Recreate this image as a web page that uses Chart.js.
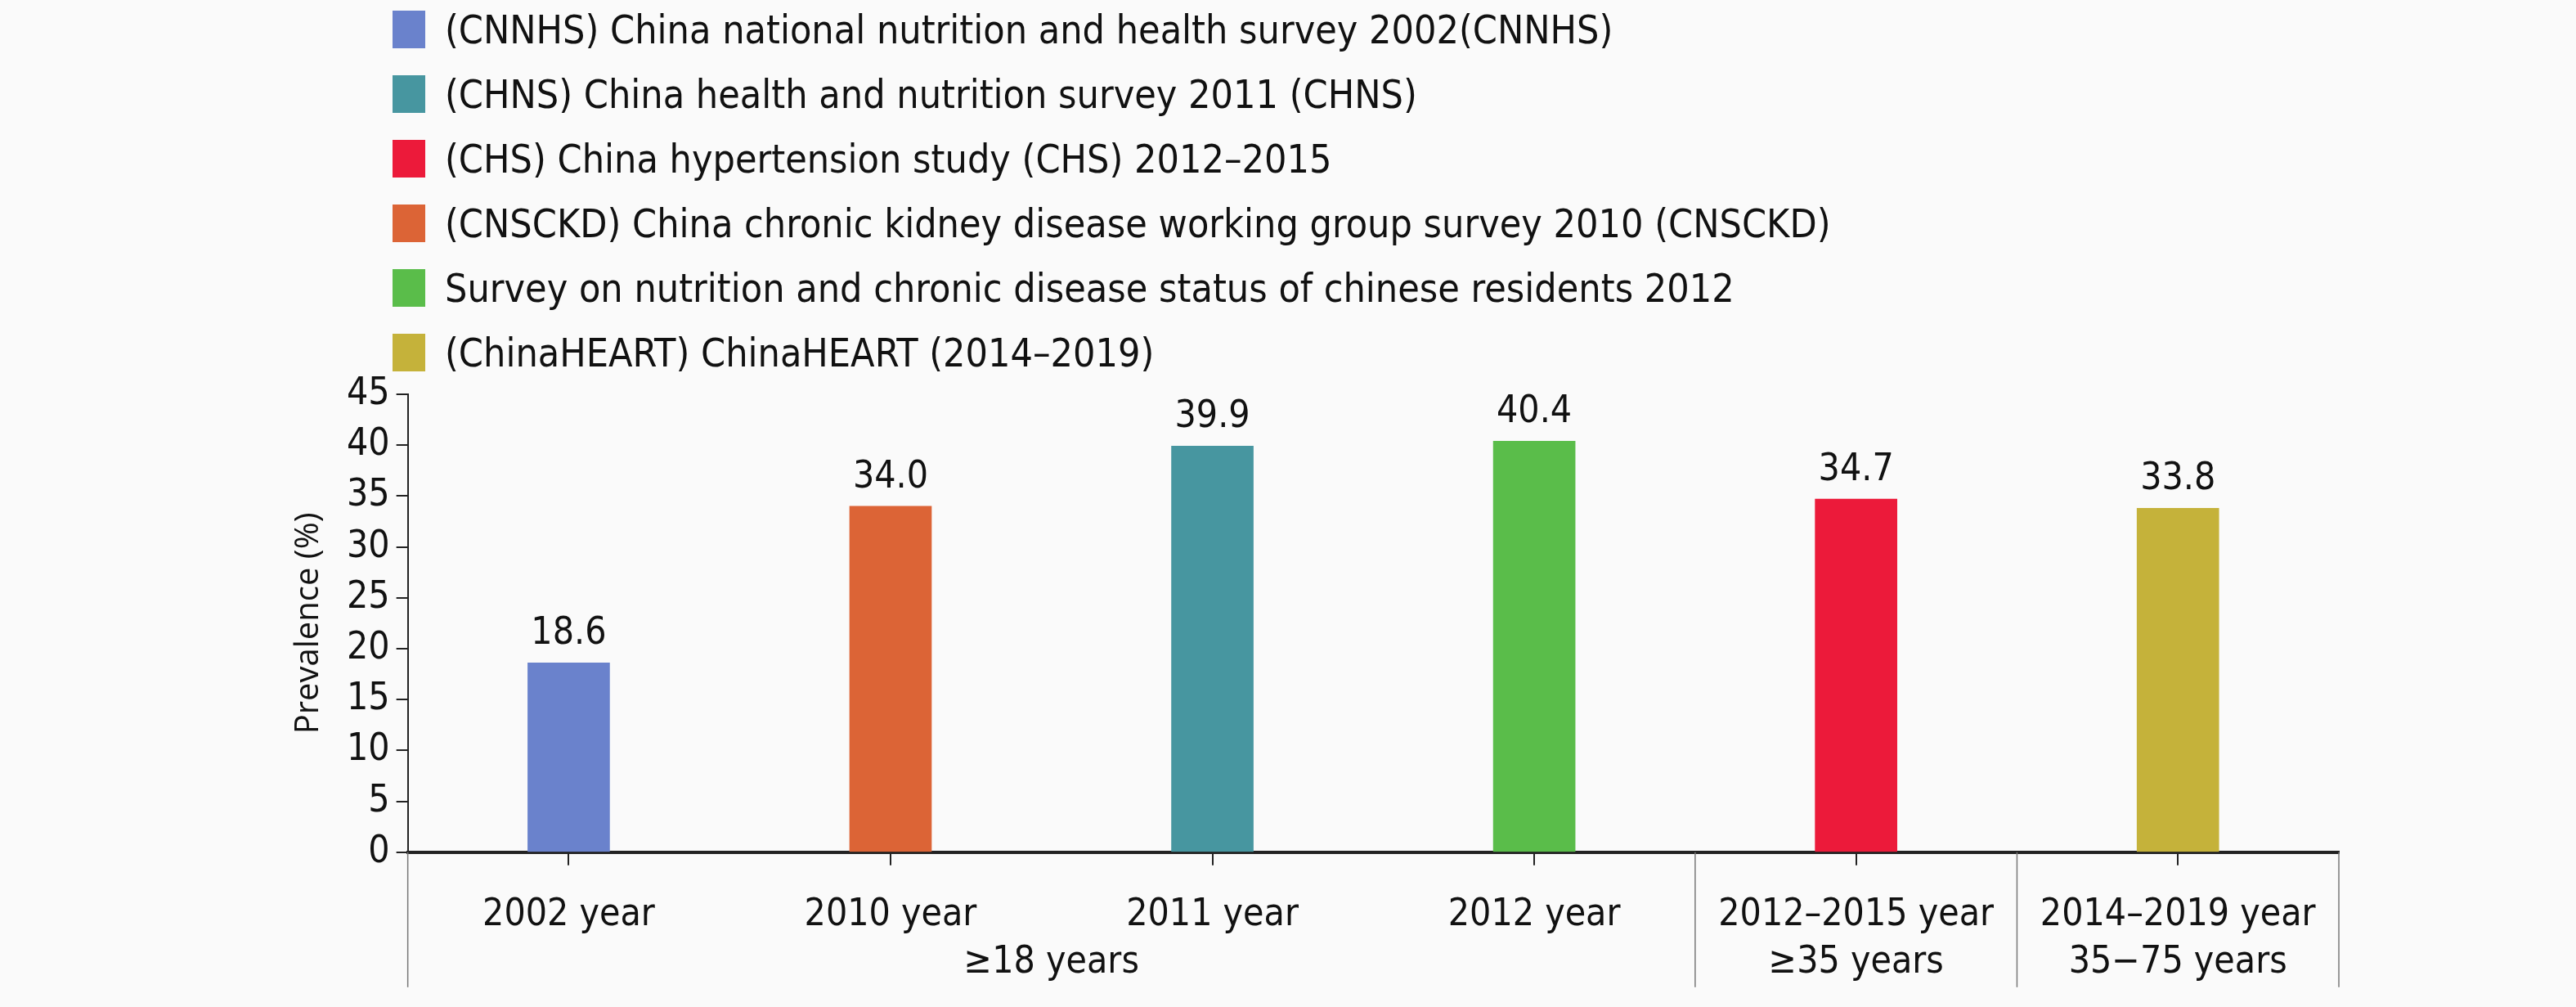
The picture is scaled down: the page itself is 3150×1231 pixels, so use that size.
<!DOCTYPE html>
<html><head><meta charset="utf-8">
<script src="https://cdn.jsdelivr.net/npm/chart.js@4.4.0/dist/chart.umd.min.js"></script>
<style>
html,body{margin:0;padding:0;background:#fafafa;}
#wrap{position:relative;width:3150px;height:1231px;}
#legend{position:absolute;left:480px;top:-4px;font-family:'Liberation Sans Narrow','DejaVu Sans Condensed',sans-serif;font-size:48px;color:#111;}
#legend div{height:79px;display:flex;align-items:center;}
#legend span.sw{display:inline-block;width:40px;height:46px;margin-right:24px;}
</style></head>
<body><div id="wrap"><canvas id="c" width="3150" height="1231"></canvas><div id="legend"></div></div>
<script>
// categories et valeurs
const CATEGORIES = ["2002 year", "2010 year", "2011 year", "2012 year", "2012\u20132015 year", "2014\u20132019 year"];
const VALUES = [18.6, 34.0, 39.9, 40.4, 34.7, 33.8];
const BAR_COLORS = ["#6a82cc", "#dc6436", "#4796a0", "#5abd4a", "#ec1a3a", "#c5b23a"];
const GROUPS = [
  { label: "\u226518 years", from: 0, to: 3 },
  { label: "\u226535 years", from: 4, to: 4 },
  { label: "35\u221275 years", from: 5, to: 5 }
];
const LEGEND_LABELS = [
  "(CNNHS) China national nutrition and health survey 2002(CNNHS)",
  "(CHNS) China health and nutrition survey 2011 (CHNS)",
  "(CHS) China hypertension study (CHS) 2012\u20132015",
  "(CNSCKD) China chronic kidney disease working group survey 2010 (CNSCKD)",
  "Survey on nutrition and chronic disease status of chinese residents 2012",
  "(ChinaHEART) ChinaHEART (2014\u20132019)"
];
const LEGEND_COLORS = ["#6a82cc", "#4796a0", "#ec1a3a", "#dc6436", "#5abd4a", "#c5b23a"];
const Y_TICKS = [0, 5, 10, 15, 20, 25, 30, 35, 40, 45];

const FONT = "'Liberation Sans Narrow','DejaVu Sans Condensed',sans-serif";

// légende HTML
const leg = document.getElementById('legend');
LEGEND_LABELS.forEach((t, i) => {
  const d = document.createElement('div');
  d.innerHTML = `<span class="sw" style="background:${LEGEND_COLORS[i]}"></span>${t}`;
  leg.appendChild(d);
});

// étiquettes, groupes et séparateurs
const extras = {
  id: 'extras',
  afterDatasetsDraw(chart) {
    const ctx = chart.ctx, x = chart.scales.x, y = chart.scales.y;
    const meta = chart.getDatasetMeta(0);
    ctx.save();
    ctx.fillStyle = '#111';
    ctx.font = `46px ${FONT}`;
    ctx.textAlign = 'center';
    ctx.textBaseline = 'bottom';
    meta.data.forEach((b, i) => ctx.fillText(VALUES[i].toFixed(1), b.x, b.y - 12));
    const step = x.getPixelForValue(1) - x.getPixelForValue(0);
    const bottom = y.bottom;
    ctx.strokeStyle = '#777';
    ctx.lineWidth = 1.5;
    const edges = [x.left, x.getPixelForValue(3) + step / 2, x.getPixelForValue(4) + step / 2, x.right];
    edges.forEach(px => { ctx.beginPath(); ctx.moveTo(px, bottom); ctx.lineTo(px, bottom + 165); ctx.stroke(); });
    ctx.textBaseline = 'middle';
    GROUPS.forEach(g => {
      const cx = (x.getPixelForValue(g.from) + x.getPixelForValue(g.to)) / 2;
      ctx.fillText(g.label, cx, bottom + 135);
    });
    ctx.restore();
  }
};

new Chart(document.getElementById('c'), {
  type: 'bar',
  data: {
    labels: CATEGORIES,
    datasets: [{ data: VALUES, backgroundColor: BAR_COLORS, barThickness: 100 }]
  },
  options: {
    responsive: false,
    animation: false,
    layout: { padding: { top: 482, left: 340, right: 290, bottom: 50 } },
    plugins: { legend: { display: false }, tooltip: { enabled: false } },
    scales: {
      x: {
        offset: true,
        border: { color: '#222', width: 4 },
        grid: { display: true, drawOnChartArea: false, offset: false, tickLength: 16, color: '#222', lineWidth: 2 },
        ticks: { color: '#111', font: { family: FONT, size: 46 }, maxRotation: 0, padding: 34 }
      },
      y: {
        min: 0, max: 45,
        afterBuildTicks: ax => { ax.ticks = Y_TICKS.map(v => ({ value: v })); },
        border: { color: '#222', width: 2 },
        grid: { display: true, drawOnChartArea: false, tickLength: 14, color: '#222', lineWidth: 2 },
        ticks: { color: '#111', font: { family: FONT, size: 46 }, padding: 8 },
        title: { display: true, text: 'Prevalence (%)', color: '#111', font: { family: "'Open Sans',sans-serif", size: 40 }, padding: 14 }
      }
    }
  },
  plugins: [extras]
});
</script></body></html>
